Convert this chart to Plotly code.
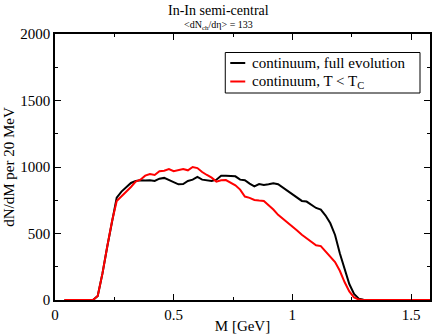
import plotly.graph_objects as go

# invariant mass grid [GeV]
mass = [0.04, 0.16, 0.18, 0.20, 0.22, 0.24, 0.26, 0.28, 0.30, 0.32,
        0.34, 0.36, 0.38, 0.40, 0.42, 0.44, 0.46, 0.48, 0.50, 0.52,
        0.54, 0.56, 0.58, 0.60, 0.62, 0.64, 0.66, 0.68, 0.70, 0.72,
        0.74, 0.76, 0.78, 0.80, 0.82, 0.84, 0.86, 0.88, 0.90, 0.92,
        0.94, 0.96, 0.98, 1.00, 1.02, 1.04, 1.06, 1.08, 1.10, 1.12,
        1.14, 1.16, 1.18, 1.20, 1.22, 1.24, 1.26, 1.28, 1.30, 1.58]

# dN/dM per 20 MeV, continuum full evolution
full_evolution = [0, 0, 30, 200, 400, 600, 770, 815, 850, 880,
                  895, 900, 898, 900, 895, 912, 918, 900, 885, 870,
                  872, 895, 905, 925, 905, 900, 895, 905, 935, 935,
                  935, 930, 905, 900, 875, 855, 872, 865, 870, 878,
                  870, 845, 815, 795, 765, 745, 740, 715, 692, 680,
                  635, 577, 489, 351, 230, 120, 45, 10, 2, 0]

# continuum, T < Tc only
below_tc = [0, 0, 30, 200, 400, 590, 745, 780, 810, 850,
            890, 905, 935, 947, 940, 968, 972, 985, 968, 978,
            985, 975, 1000, 992, 962, 940, 920, 890, 900, 902,
            885, 862, 830, 778, 768, 752, 748, 745, 712, 680,
            640, 612, 585, 553, 522, 490, 462, 438, 412, 405,
            365, 325, 285, 220, 135, 65, 20, 3, 0, 0]

FONT = "Liberation Serif"

fig = go.Figure()
fig.add_trace(go.Scatter(x=mass, y=full_evolution, mode="lines",
                         line=dict(color="black", width=2),
                         name="continuum, full evolution"))
fig.add_trace(go.Scatter(x=mass, y=below_tc, mode="lines",
                         line=dict(color="#ff0000", width=2),
                         name="continuum, T < T<sub>C</sub>"))

axis_common = dict(
    showline=True, linecolor="black", linewidth=1.5, mirror="allticks",
    ticks="inside", ticklen=6, tickwidth=1, tickcolor="black",
    showgrid=False, zeroline=False, automargin=False,
    tickfont=dict(family=FONT, size=15, color="black"),
)

fig.update_xaxes(range=[0, 1.58], tickvals=[0, 0.5, 1, 1.5],
                 ticktext=["0", "0.5", "1", "1.5"], ticklabelstandoff=0,
                 minor=dict(dtick=0.25, ticks="inside", ticklen=3,
                            tickcolor="black", tickwidth=1),
                 title=dict(text="M [GeV]", standoff=0,
                            font=dict(family=FONT, size=15, color="black")),
                 **axis_common)
fig.update_yaxes(range=[0, 2000], dtick=500,
                 minor=dict(dtick=250, ticks="inside", ticklen=3,
                            tickcolor="black", tickwidth=1),
                 title=dict(text="dN/dM per 20 MeV", standoff=2,
                            font=dict(family=FONT, size=15, color="black")),
                 **axis_common)

# legend drawn by hand to mimic the boxed Grace legend
fig.add_shape(type="rect", xref="paper", yref="paper",
              x0=(225 - 54.5) / 375.5, x1=(420 - 54.5) / 375.5,
              y0=(300 - 93) / 266, y1=(300 - 52.5) / 266,
              line=dict(color="black", width=1), fillcolor="white")
legend_rows = [("continuum, full evolution", "black", 63),
               ("continuum, T &lt; T<sub>C</sub>", "#ff0000", 81.5)]
for label, color, py in legend_rows:
    yp = (300 - py) / 266
    fig.add_shape(type="line", xref="paper", yref="paper",
                  x0=(230 - 54.5) / 375.5, x1=(245 - 54.5) / 375.5,
                  y0=yp, y1=yp, line=dict(color=color, width=2))
    fig.add_annotation(xref="paper", yref="paper",
                       x=(250 - 54.5) / 375.5, y=yp, text=label,
                       showarrow=False, xanchor="left", yanchor="middle",
                       font=dict(family=FONT, size=15, color="black"))

fig.add_annotation(xref="paper", yref="paper", x=0.436, y=(300 - 10) / 266,
                   text="In-In semi-central", showarrow=False,
                   xanchor="center", yanchor="middle",
                   font=dict(family=FONT, size=14, color="black"))
fig.add_annotation(xref="paper", yref="paper", x=0.436, y=(300 - 25) / 266,
                   text="&lt;dN<sub>ch</sub>/dη&gt; = 133", showarrow=False,
                   xanchor="center", yanchor="middle",
                   font=dict(family=FONT, size=10, color="black"))

fig.update_layout(
    width=436, height=334,
    margin=dict(l=54.5, r=6, t=34, b=34),
    paper_bgcolor="white", plot_bgcolor="white",
    showlegend=False,
)

fig.write_html("out.html", config={"displayModeBar": False},
               post_script="document.body.style.margin='0';")
